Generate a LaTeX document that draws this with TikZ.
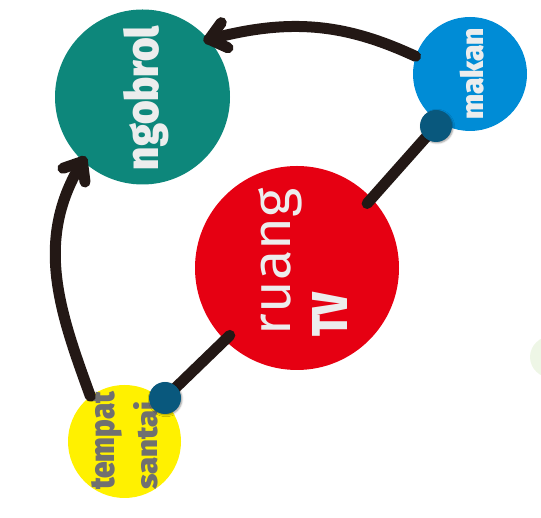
\documentclass[tikz,border=0pt]{standalone}
\usepackage{fontspec}
\usepackage{graphicx}
\usepackage{tikz}
\usetikzlibrary{decorations.markings,shadows.blur}

\newfontfamily\heavyfont{Fira Sans Black}
\newfontfamily\plainfont{Fira Sans}

\definecolor{ngobrolteal}{RGB}{13,135,123}
\definecolor{makanblue}{RGB}{0,140,214}
\definecolor{ruangred}{RGB}{230,0,18}
\definecolor{santaiyellow}{RGB}{255,241,0}
\definecolor{pinblue}{RGB}{9,88,125}
\definecolor{ink}{RGB}{35,24,21}
\definecolor{paper}{RGB}{236,237,237}
\definecolor{slate}{RGB}{112,112,112}
\definecolor{paleleaf}{RGB}{238,246,230}

% squeeze a word into a given length and height
\newcommand{\fitword}[3]{\resizebox{#1}{#2}{#3}}

\begin{document}
\begin{tikzpicture}[x=1pt,y=1pt,
    spot/.style={circle, inner sep=0pt},
    word/.style={inner sep=0pt, rotate=90},
    link/.style={draw=ink, line width=11pt, line cap=round},
    hop/.style={link, postaction={decorate}, decoration={markings,
        mark=at position -0.5pt with {\draw[ink, line width=11pt, line cap=round, line join=round]
            (-16pt,13pt) -- (0,0) -- (-16pt,-13pt);}}},
    pin/.style={circle, fill=pinblue, minimum size=32pt, inner sep=0pt,
        blur shadow={shadow xshift=1pt, shadow yshift=-1pt}}]
    \useasboundingbox (0,0) rectangle (541,518);
    \fill[paleleaf] (552,161) ellipse (22 and 21);

    % the four places
    \node[spot, fill=ngobrolteal, minimum size=175pt] (ngobrol) at (142.5,421) {};
    \node[spot, fill=makanblue, minimum size=114pt] (makan) at (470,444) {};
    \node[spot, fill=ruangred, minimum size=204pt] (ruang) at (297,250) {};
    \node[spot, fill=santaiyellow, minimum size=113pt] (tempat) at (124.5,76.5) {};

    % words on their side
    \node[word, anchor=base, text=paper] (ngobrol-txt) at (158,420) {\heavyfont\fitword{144pt}{35pt}{ngobrol}};
    \node[word, anchor=base, text=paper] (makan-txt) at (483,444) {\heavyfont\fitword{92pt}{23.5pt}{makan}};
    \node[word, anchor=base, text=paper] (ruang-txt) at (290,256.5) {\plainfont\fitword{147pt}{32pt}{ruang}};
    \node[word, anchor=base, text=paper] (tv-txt) at (347,203) {\heavyfont\fitword{44pt}{35pt}{TV}};
    \node[word, anchor=base west, text=slate] (tempat-txt) at (114,28) {\heavyfont\fitword{98pt}{23pt}{tempat}};
    \node[word, anchor=base west, text=slate] (santai-txt) at (157,28) {\heavyfont\fitword{88pt}{24pt}{santai}};

    % arrows into ngobrol
    \draw[hop] (makan.162) to[out=155,in=15] (ngobrol.41);
    \draw[hop] (tempat.127) to[out=110,in=238] (ngobrol.227);

    % links to ruang TV
    \coordinate (makan-pin) at (436,392);
    \coordinate (tempat-pin) at (165,120);
    \draw[link, shorten >=-7pt] (makan-pin) -- (ruang.43);
    \draw[link, shorten >=-7pt] (tempat-pin) -- (ruang.225);
    \node[pin] at (makan-pin) {};
    \node[pin] at (tempat-pin) {};
\end{tikzpicture}
\end{document}
